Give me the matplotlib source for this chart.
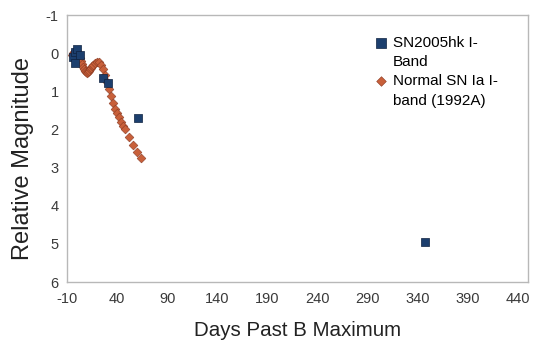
import matplotlib.pyplot as plt

plt.rcParams['font.family'] = ['Liberation Sans', 'DejaVu Sans']
plt.rcParams['axes.unicode_minus'] = False

# SN2005hk I-band
hk_days = [-4, -2, 0, -2, 3, 26, 31, 61, 347]
hk_mag = [0.10, -0.03, -0.11, 0.26, 0.05, 0.65, 0.78, 1.70, 4.96]

# Normal SN Ia I-band (1992A)
ia_days = [-5, -4, -3, -2, -1, 0, 1, 2, 3, 4, 5, 6, 7, 8, 9, 10, 11, 12, 13, 14,
           15, 16, 18, 20, 22, 24, 26, 28, 30, 32, 34, 36, 38, 40, 42, 44, 46, 48,
           52, 56, 60, 64]
ia_mag = [0.05, 0.0, -0.04, -0.06, -0.07, -0.05, -0.02, 0.05, 0.12, 0.20, 0.28,
          0.35, 0.42, 0.47, 0.50, 0.52, 0.50, 0.46, 0.42, 0.38, 0.34, 0.30, 0.26,
          0.23, 0.24, 0.30, 0.42, 0.58, 0.75, 0.95, 1.13, 1.30, 1.45, 1.57, 1.68,
          1.80, 1.90, 1.98, 2.20, 2.40, 2.58, 2.75]

x_ticks = [-10, 40, 90, 140, 190, 240, 290, 340, 390, 440]
y_ticks = [-1, 0, 1, 2, 3, 4, 5, 6]

fig = plt.figure(figsize=(5.41, 3.44), dpi=100)
ax = fig.add_axes([0.124, 0.180, 0.852, 0.776])

ax.scatter(ia_days, ia_mag, marker='D', s=20, c='#c8603a', edgecolors='#8a3a22',
           linewidths=0.4, label='Normal SN Ia I-\nband (1992A)', zorder=2)
ax.scatter(hk_days, hk_mag, marker='s', s=40, c='#1c3f6e', edgecolors='#0e2240',
           linewidths=0.5, label='SN2005hk I-\nBand', zorder=3)

ax.set_xlim(-10, 450)
ax.set_ylim(6, -1)
ax.set_xticks(x_ticks)
ax.set_yticks(y_ticks)
ax.tick_params(axis='both', length=0, labelsize=10.5, colors='#3a3a3a')
ax.tick_params(axis='x', pad=7)
ax.tick_params(axis='y', pad=6)
for s in ax.spines.values():
    s.set_color('#b8b8b8')
    s.set_linewidth(1)

ax.set_xlabel('Days Past B Maximum', fontsize=14.8, color='#222222', labelpad=11)
ax.set_ylabel('Relative Magnitude', fontsize=17, color='#222222')
ax.yaxis.set_label_coords(-0.072, 0.464)

h, l = ax.get_legend_handles_labels()
leg = ax.legend(h[::-1], l[::-1], loc='upper left', bbox_to_anchor=(0.652, 0.945),
                frameon=False, fontsize=11, handletextpad=0.25, labelspacing=0.3,
                handlelength=1.0, handleheight=1.2, borderaxespad=0, markerscale=1.1)
for t in leg.get_texts():
    t.set_linespacing(1.5)
# put the marker next to the first line of each wrapped label
for col in leg._legend_handle_box.get_children():
    for row in col.get_children():
        row.align = 'top'

fig.savefig('out.png', dpi=100)
